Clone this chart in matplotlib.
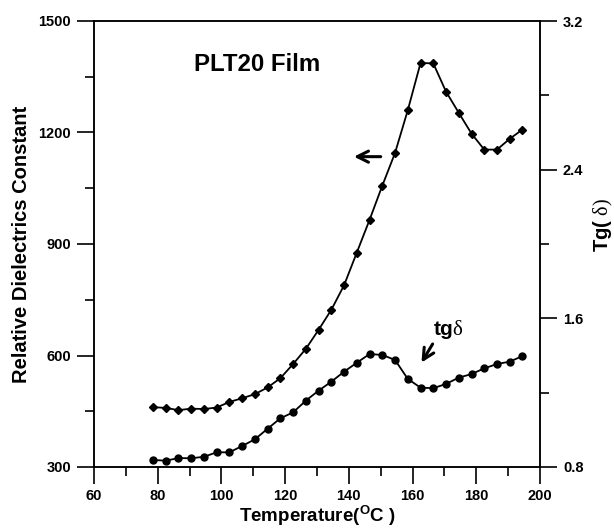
import matplotlib
matplotlib.use('Agg')
import matplotlib.pyplot as plt
from matplotlib.ticker import MultipleLocator

plt.rcParams['font.family'] = ['Liberation Sans', 'DejaVu Sans']
plt.rcParams['font.weight'] = 'bold'
plt.rcParams['mathtext.fontset'] = 'custom'
plt.rcParams['mathtext.rm'] = 'Liberation Serif:weight=normal'
plt.rcParams['mathtext.bf'] = 'Liberation Sans:weight=bold'

temperature = [78.5, 82.5, 86.5, 90.5, 94.5, 98.5, 102.5, 106.5, 110.5, 114.5,
               118.5, 122.5, 126.5, 130.5, 134.5, 138.5, 142.5, 146.5, 150.5, 154.5,
               158.5, 162.5, 166.5, 170.5, 174.5, 178.5, 182.5, 186.5, 190.5, 194.5]
dielectric = [461, 459, 453, 457, 456, 460, 475, 485, 496, 514,
              539, 577, 618, 669, 723, 789, 877, 965, 1057, 1145,
              1260, 1387, 1386, 1310, 1253, 1197, 1154, 1154, 1183, 1208]
tg_delta = [0.838, 0.834, 0.848, 0.847, 0.855, 0.879, 0.879, 0.913, 0.949, 1.006,
            1.062, 1.094, 1.157, 1.211, 1.259, 1.313, 1.361, 1.408, 1.403, 1.376,
            1.274, 1.227, 1.224, 1.247, 1.281, 1.300, 1.331, 1.354, 1.367, 1.397]

fig = plt.figure(figsize=(6.14, 5.30), dpi=100)
ax = fig.add_axes([94 / 614, 1 - 467 / 530, 446 / 614, 446 / 530])

ax.plot(temperature, dielectric, color='black', lw=1.3, marker='D', ms=4.5)
ax.set_xlim(60, 200)
ax.set_ylim(300, 1500)
ax.xaxis.set_major_locator(MultipleLocator(20))
ax.xaxis.set_minor_locator(MultipleLocator(10))
ax.yaxis.set_major_locator(MultipleLocator(300))
ax.yaxis.set_minor_locator(MultipleLocator(150))

ax2 = ax.twinx()
ax2.plot(temperature, tg_delta, color='black', lw=1.3, marker='o', ms=5)
ax2.set_ylim(0.8, 3.2)
ax2.yaxis.set_major_locator(MultipleLocator(0.8))
ax2.yaxis.set_minor_locator(MultipleLocator(0.4))

for a in (ax, ax2):
    a.tick_params(which='major', direction='out', length=12, width=1.2, labelsize=10.5)
    a.tick_params(which='minor', direction='out', length=6.5, width=1.2)
    for s in a.spines.values():
        s.set_linewidth(1.1)
ax.tick_params(axis='x', pad=4)
ax.tick_params(axis='y', pad=4.5)
ax2.tick_params(axis='y', pad=4.5)

ax.set_xlabel(r'Temperature($^{\mathbf{O}}$C )', fontsize=13.5, fontweight='bold')
ax.xaxis.set_label_coords(0.5, -0.081)
ax.set_ylabel('Relative Dielectrics Constant', fontsize=14.5, fontweight='bold')
ax.yaxis.set_label_coords(-0.141, 0.5)
ax2.set_ylabel(r'Tg( $\mathrm{\delta)}$', fontsize=14.5, fontweight='bold')
ax2.yaxis.set_label_coords(1.117, 0.543)

ax.text(111.2, 1384, 'PLT20 Film', fontsize=17.3, ha='center', va='center')
ax.text(166.4, 655, r'tg$\mathrm{\delta}$', fontsize=15, ha='left', va='baseline')

arrow = dict(arrowstyle='->', lw=2.2, color='black', mutation_scale=20,
             shrinkA=0, shrinkB=0)
ax.annotate('', xy=(141.6, 1135), xytext=(150.0, 1135), arrowprops=arrow)
ax.annotate('', xy=(162.8, 581), xytext=(166.3, 631), arrowprops=arrow)

fig.savefig('out.png', dpi=100)
